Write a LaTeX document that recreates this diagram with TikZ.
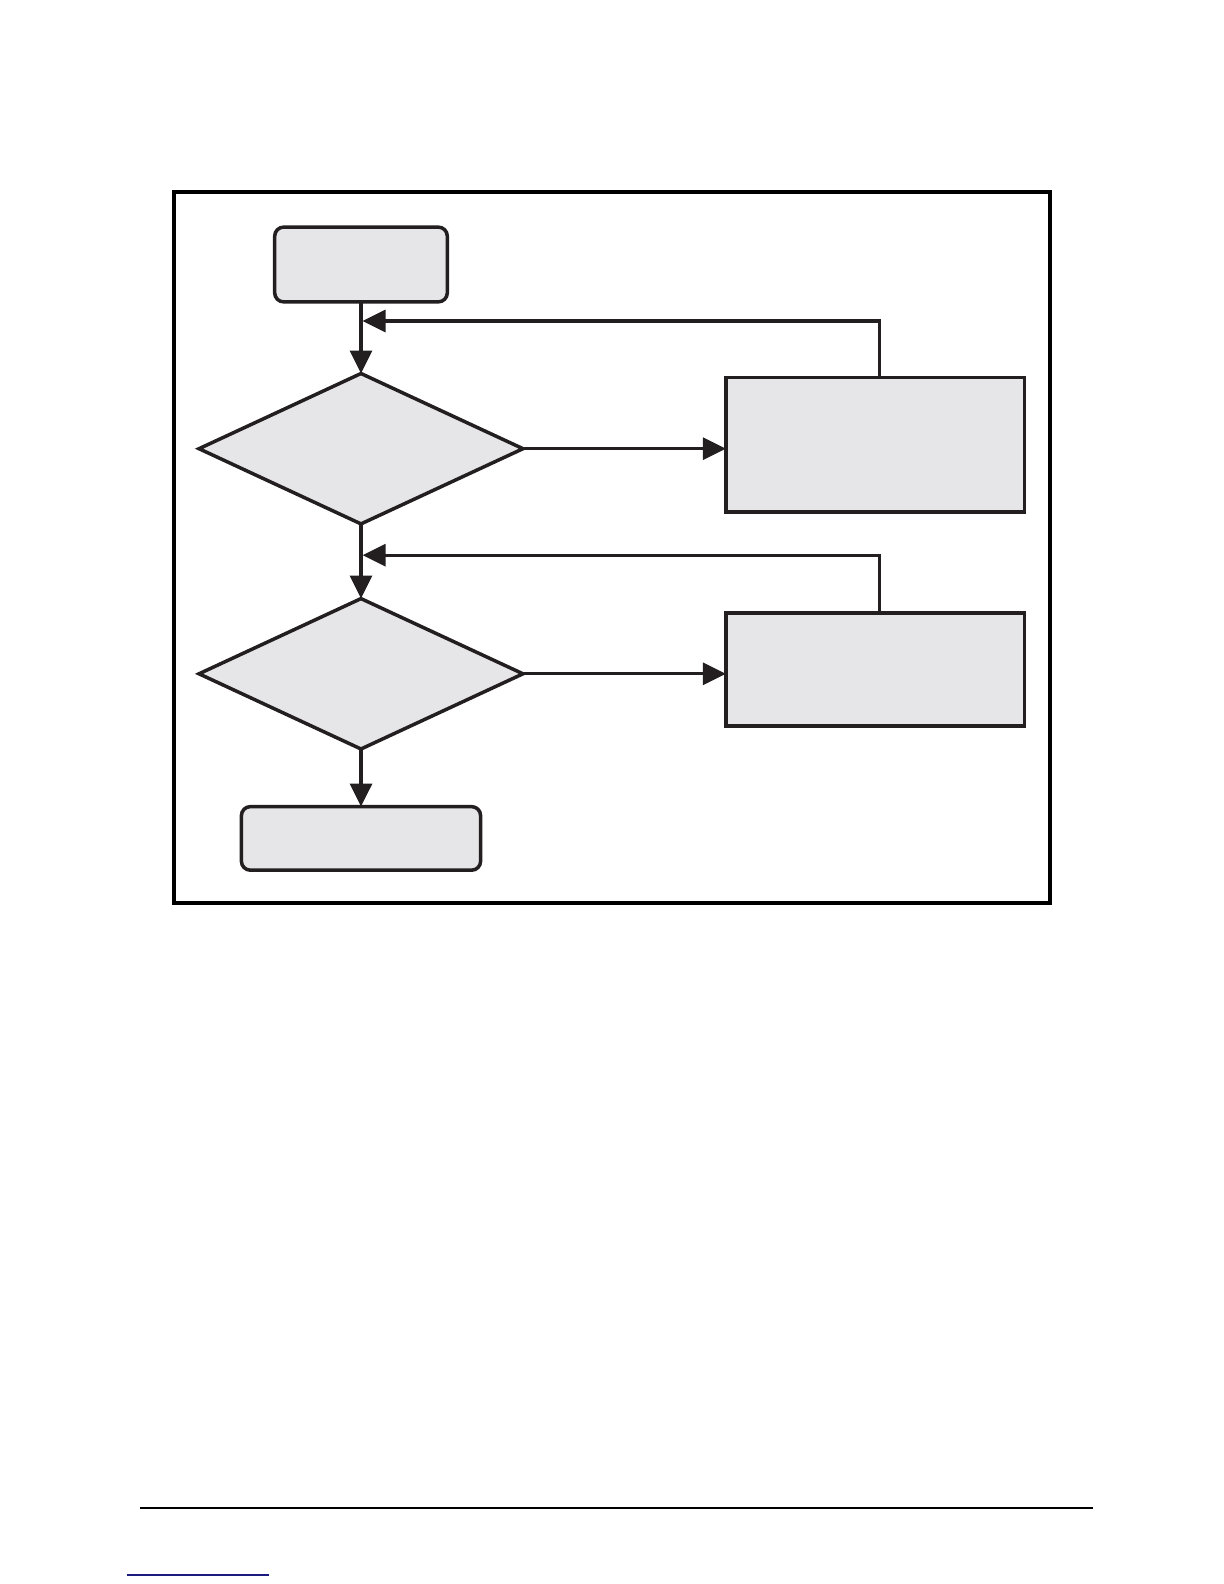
\documentclass[tikz,border=0pt]{standalone}
\usetikzlibrary{shapes.geometric,arrows.meta}
\definecolor{ink}{HTML}{231F20}
\definecolor{boxfill}{HTML}{E6E6E8}
\definecolor{linkblue}{HTML}{1A1A80}
\begin{document}
\begin{tikzpicture}[x=0.5pt,y=-0.5pt,
  shape line/.style={draw=ink,line width=1.75pt,fill=boxfill,inner sep=0pt,outer sep=0pt},
  roundbox/.style={shape line,rectangle,rounded corners=4.5pt},
  sqbox/.style={shape line,rectangle},
  decision/.style={shape line,diamond,aspect=2.15,minimum width=162pt,minimum height=75.2pt},
  conn/.style={draw=ink,line width=1.6pt},
  tip/.style={-{Triangle[length=11.5pt,width=11pt]}},
  arr/.style={conn,tip}]
\useasboundingbox (0,0) rectangle (1224,1584);
% outer frame
\node[draw=black,line width=1.75pt,rectangle,inner sep=0pt,minimum width=438pt,minimum height=355.5pt] (frame) at (612,547.5) {};
% nodes
\node[roundbox,minimum width=86.3pt,minimum height=37.4pt] (start) at (361,264.5) {};
\node[decision] (d1) at (361,448.7) {};
\node[sqbox,minimum width=149.4pt,minimum height=67.1pt] (b1) at (875.2,444.7) {};
\node[decision] (d2) at (361,673.8) {};
\node[sqbox,minimum width=149.4pt,minimum height=56.5pt] (b2) at (875.2,669.3) {};
\node[roundbox,minimum width=119.6pt,minimum height=31.8pt] (stop) at (361,838.4) {};
% main flow
\draw[arr] (start.south) -- (d1.north);
\draw[arr] (d1.south) -- (d2.north);
\draw[arr] (d2.south) -- (stop.north);
\draw[arr] (d1.east) -- (d1.east -| b1.west);
\draw[arr] (d2.east) -- (d2.east -| b2.west);
% feedback loops
\coordinate (f1) at (879.3,321);
\coordinate (f2) at (879.3,555.2);
\draw[arr] (f1 |- b1.north) -- (f1) -- ([xshift=0.8pt]start.south |- f1);
\draw[arr] (f2 |- b2.north) -- (f2) -- ([xshift=0.8pt]start.south |- f2);
% footer rules
\coordinate (r1) at (140,1508);
\coordinate (r2) at (1093,1508);
\draw[black,line width=0.8pt] (r1) -- (r2);
\coordinate (u1) at (127,1575);
\coordinate (u2) at (269,1575);
\draw[linkblue,line width=0.7pt] (u1) -- (u2);
\end{tikzpicture}
\end{document}
